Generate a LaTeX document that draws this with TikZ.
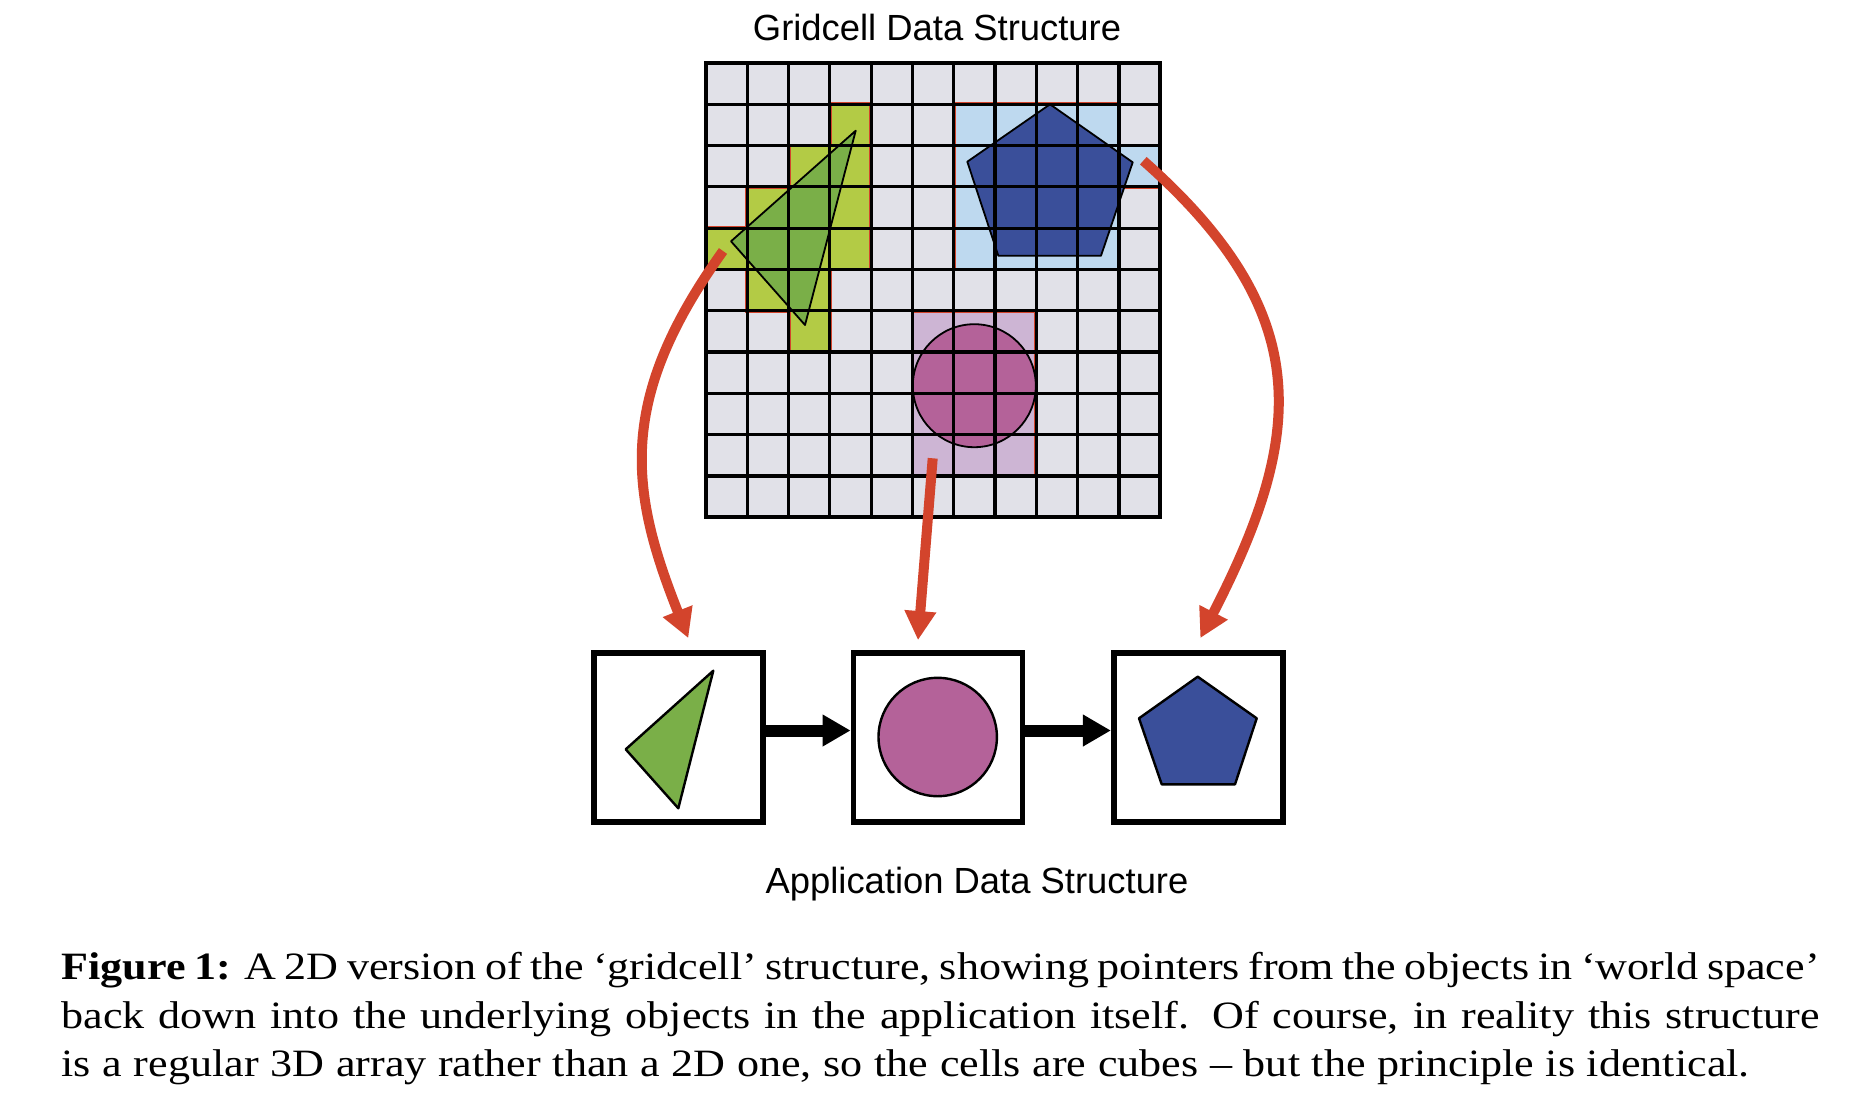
\documentclass[tikz,border=0pt]{standalone}
\usepackage{fontspec}
\setmainfont{Liberation Serif}
\newfontfamily\labfont{Liberation Sans}
\newfontfamily\capfont{Liberation Serif}[FakeStretch=1.14]
\usetikzlibrary{arrows.meta}
\definecolor{gridgray}{RGB}{225,225,232}
\definecolor{cellgreen}{RGB}{179,203,69}
\definecolor{cellblue}{RGB}{190,217,239}
\definecolor{cellpink}{RGB}{205,181,212}
\definecolor{trigreen}{RGB}{122,175,72}
\definecolor{circpink}{RGB}{180,98,153}
\definecolor{pentblue}{RGB}{58,79,154}
\definecolor{arrowred}{RGB}{211,68,44}
\begin{document}
\begin{tikzpicture}[x=0.01cm,y=-0.01cm,
  labeltext/.style={font=\labfont\fontsize{10.35}{12}\selectfont, inner sep=0pt, anchor=base},
  captext/.style={font=\capfont\fontsize{11}{13.8}\selectfont, inner sep=0pt, anchor=base west},
  appbox/.style={draw=black, line width=0.057cm, minimum width=1.69cm, minimum height=1.69cm, inner sep=0pt},
  gridline/.style={draw=black, line width=0.032cm},
  regionline/.style={draw=arrowred, line width=0.038cm},
  shapeline/.style={draw=black, line width=0.018cm, line join=round},
  boxshape/.style={draw=black, line width=0.024cm, line join=round},
  redarrow/.style={draw=arrowred, line width=0.1cm, -{Triangle[length=0.29cm,width=0.30cm]}},
  blackarrow/.style={draw=black, line width=0.12cm, -{Triangle[length=0.28cm,width=0.30cm]}}
]
\useasboundingbox (0,0) rectangle (1858,1118);
\fill[white] (0,0) rectangle (1858,1118);

% ---------- grid cells ----------
\begin{scope}[shift={(706,63)}, x=0.4127cm, y=-0.4127cm]
  \fill[gridgray] (0,0) rectangle (11,11);
  \foreach \c/\r in {3/1,2/2,3/2,1/3,2/3,3/3,0/4,1/4,2/4,3/4,1/5,2/5,2/6}
    \fill[cellgreen] (\c,\r) rectangle ++(1,1);
  \foreach \c/\r in {6/1,7/1,8/1,9/1,6/2,7/2,8/2,9/2,10/2,6/3,7/3,8/3,9/3,6/4,7/4,8/4,9/4}
    \fill[cellblue] (\c,\r) rectangle ++(1,1);
  \foreach \c/\r in {5/6,6/6,7/6,5/7,6/7,7/7,5/8,6/8,7/8,5/9,6/9,7/9}
    \fill[cellpink] (\c,\r) rectangle ++(1,1);
  \draw[regionline] (3,1) -- (4,1) -- (4,5) -- (3,5) -- (3,7) -- (2,7) -- (2,6) -- (1,6) -- (1,5) -- (0,5) -- (0,4) -- (1,4) -- (1,3) -- (2,3) -- (2,2) -- (3,2) -- cycle;
  \draw[regionline] (6,1) -- (10,1) -- (10,2) -- (11,2) -- (11,3) -- (10,3) -- (10,5) -- (6,5) -- cycle;
  \draw[regionline] (5,6) -- (8,6) -- (8,10) -- (5,10) -- cycle;
\end{scope}

% ---------- objects in world space ----------
\filldraw[shapeline, fill=trigreen] (855.7,130.7) -- (731,241.3) -- (805,325) -- cycle;
\filldraw[shapeline, fill=pentblue] (1050,104.3) -- (1132.7,162.3) -- (1101,255.7) -- (998.3,255.7) -- (967.3,161.7) -- cycle;
\filldraw[shapeline, fill=circpink] (974.3,385.7) circle[radius=61.5];

% ---------- grid lines ----------
\begin{scope}[shift={(706,63)}, x=0.4127cm, y=-0.4127cm]
  \foreach \i in {1,...,10} {
    \draw[gridline] (\i,0) -- (\i,11);
    \draw[gridline] (0,\i) -- (11,\i);
  }
  \draw[gridline, line width=0.038cm] (0,0) rectangle (11,11);
\end{scope}

% ---------- labels ----------
\node[labeltext] (gridlabel) at (937,40) {Gridcell Data Structure};
\node[labeltext] (applabel) at (977,893) {Application Data Structure};

% ---------- application boxes ----------
\node[appbox] (box1) at (678.3,737.5) {};
\node[appbox] (box2) at (938,737.5) {};
\node[appbox] (box3) at (1198.3,737.5) {};

\filldraw[boxshape, fill=trigreen] (713.3,670.7) -- (625.7,749.3) -- (678.3,808.3) -- cycle;
\filldraw[boxshape, fill=circpink] (937.7,737) circle[radius=59.2];
\filldraw[boxshape, fill=pentblue] (1197.7,676.7) -- (1256.7,718.3) -- (1235,784.3) -- (1161.7,784.3) -- (1139,718.3) -- cycle;

\draw[blackarrow] ([yshift=0.07cm]box1.east) -- ([yshift=0.07cm]box2.west);
\draw[blackarrow] ([yshift=0.07cm]box2.east) -- ([yshift=0.07cm]box3.west);

% ---------- pointers ----------
\coordinate (tristart) at (723,251);
\coordinate (circstart) at (932.7,458.3);
\coordinate (pentstart) at (1143.3,160.7);

\draw[redarrow] (tristart) .. controls (617,399) and (629,489) .. ([shift={(10,-12)}]box1.north);
\draw[redarrow] (circstart) -- ([shift={(-20,-10)}]box2.north);
\draw[redarrow] (pentstart) .. controls (1315.5,312.8) and (1305.8,433.3) .. ([shift={(2,-12)}]box3.north);

% ---------- caption ----------
\node[captext] (cap1) at (61,979.3) {\makebox[17.57cm][s]{\textbf{Figure 1:} A 2D version of the ‘gridcell’ structure, showing pointers from the objects in ‘world space’}};
\node[captext] (cap2) at (61,1028.3) {\makebox[17.57cm][s]{back down into the underlying objects in the application itself. Of course, in reality this structure}};
\node[captext] (cap3) at (61,1076.7) {\makebox[16.87cm][s]{is a regular 3D array rather than a 2D one, so the cells are cubes – but the principle is identical.}};
\end{tikzpicture}
\end{document}
